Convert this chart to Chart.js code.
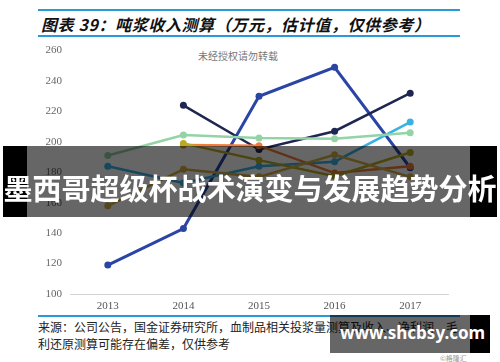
<!DOCTYPE html>
<html>
<head>
<meta charset="utf-8">
<script src="https://cdn.jsdelivr.net/npm/chart.js@4/dist/chart.umd.min.js"></script>
<style>
  body { margin: 0; background: #fff; }
  #wrap { position: relative; width: 500px; height: 362px; overflow: hidden; background: #fff; }
  .bar { position: absolute; left: 38px; width: 422px; height: 2px; background: #2a9ad6; }
  #titre { position: absolute; left: 41px; top: 12px; font: italic bold 16px "Noto Sans CJK SC", sans-serif; color: #111; letter-spacing: 0.6px; white-space: nowrap; }
  #marca { position: absolute; left: 198px; top: 48px; font: 10px "Noto Sans CJK SC", sans-serif; color: #777; }
  #grafico { position: absolute; left: 0; top: 36px; }
  #fonte { position: absolute; left: 38px; top: 318px; font: 12px/17px "Noto Sans CJK SC", sans-serif; color: #222; white-space: nowrap; }
  #faixa { position: absolute; left: 3px; top: 146px; width: 494px; height: 71px; background: rgba(0,0,0,0.6); }
  .preto { position: absolute; top: 146px; height: 71px; background: #000; }
  #faixaTexto { position: absolute; left: 0; width: 500px; top: 166px; text-align: center; font: bold 29px "Noto Sans CJK SC", sans-serif; color: #fff; white-space: nowrap; }
  #site { position: absolute; left: 330px; top: 315px; width: 140px; height: 38px; background: rgba(0,0,0,0.6); }
  #siteTexto { position: absolute; left: 340px; top: 321px; font: bold 17px "Noto Sans", sans-serif; color: #fff; white-space: nowrap; }
  #copy { position: absolute; left: 440px; top: 353px; font: 7px "Noto Sans CJK SC", sans-serif; color: #999; }
</style>
</head>
<body>
<div id="wrap">
  <div class="bar" style="top:9px"></div>
  <div id="titre">图表 39：吨浆收入测算（万元，估计值，仅供参考）</div>
  <div class="bar" style="top:35px"></div>
  <div id="marca">未经授权请勿转载</div>
  <canvas id="grafico" width="500" height="278"></canvas>
  <div class="bar" style="top:315px"></div>
  <div id="fonte">来源：公司公告，国金证券研究所，血制品相关投浆量测算及收入、净利润、毛<br>利还原测算可能存在偏差，仅供参考</div>
  <div id="faixa"></div>
  <div class="preto" style="left:3px;width:24px"></div>
  <div class="preto" style="left:470px;width:27px"></div>
  <div id="faixaTexto">墨西哥超级杯战术演变与发展趋势分析</div>
  <div id="site"></div>
  <div class="preto" style="left:470px;top:315px;width:20px;height:38px"></div>
  <div id="siteTexto">www.shcbsy.com</div>
  <div id="copy">©格隆汇</div>
</div>
<script>
const anos = ["2013", "2014", "2015", "2016", "2017"];

// valores (万元)
const serieAzul = [119, 143, 230, 249, 183];
const serieMarinho = [null, 224, 195, 207, 232];
const serieVerde = [191, 204.5, 202.5, 202, 206];
const serieCiano = [184, 173, 184, 187, 213];
const serieLaranja = [null, 198, 197.5, 179.5, 184];
const serieOliva = [null, 199, 188, 177.5, 193];
const serieOuro = [158, 182, 177, 191.5, 177];

const eixoY = { min: 100, max: 260, passo: 20 };

function linha(dados, cor, largura) {
  return {
    data: dados,
    borderColor: cor,
    backgroundColor: cor,
    borderWidth: largura || 2.5,
    pointRadius: 3.5,
    pointBorderWidth: 0,
    tension: 0
  };
}

const ctx = document.getElementById("grafico").getContext("2d");

new Chart(ctx, {
  type: "line",
  data: {
    labels: anos,
    datasets: [
      linha(serieVerde, "#93d3a6"),
      linha(serieOuro, "#d2b043"),
      linha(serieOliva, "#b8aa22"),
      linha(serieLaranja, "#f27c3a"),
      linha(serieCiano, "#38b2e4"),
      linha(serieMarinho, "#1e2752"),
      linha(serieAzul, "#2b45a6", 3)
    ]
  },
  options: {
    responsive: false,
    animation: false,
    layout: { padding: { left: 30, right: 52, top: 0, bottom: 0 } },
    plugins: { legend: { display: false }, tooltip: { enabled: false } },
    scales: {
      x: {
        offset: true,
        grid: { display: false, drawTicks: false },
        border: { display: true, color: "#d4d4d4", width: 1 },
        ticks: { padding: 6, color: "#555", font: { family: "Liberation Serif", size: 11 } },
        afterFit: (s) => { s.height = 20; }
      },
      y: {
        min: eixoY.min,
        max: eixoY.max,
        grid: { display: false, drawTicks: false },
        border: { display: false },
        ticks: { stepSize: eixoY.passo, padding: 8, color: "#666", font: { family: "Liberation Serif", size: 11 } },
        afterFit: (s) => { s.width = 40; }
      }
    }
  }
});
</script>
</body>
</html>
